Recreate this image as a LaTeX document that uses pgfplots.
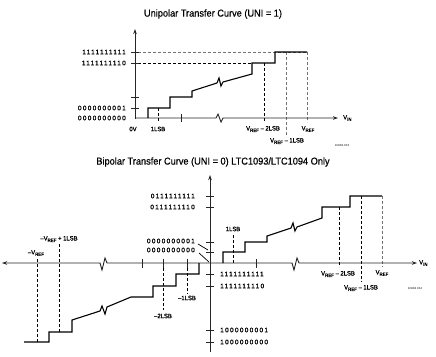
\documentclass[border=0pt]{standalone}
\usepackage{fontspec}
\setmainfont{Liberation Sans}
\newfontfamily\titlefont{Liberation Sans}[FakeStretch=0.92, FakeBold=0.5]
\newfontfamily\bitfont{Liberation Sans}[LetterSpace=20, FakeBold=1]
\newfontfamily\lblfont{Liberation Sans}[FakeStretch=0.92, FakeBold=1]
\usepackage{graphicx}
\usepackage{pgfplots}
\pgfplotsset{compat=1.18}
\usetikzlibrary{arrows.meta}
\newcommand{\bits}[1]{{\bitfont\fontsize{6.5}{7}\selectfont #1}}
\newcommand{\sub}[1]{\raisebox{-0.45ex}{\fontsize{4.8}{5}\selectfont #1}}
\newcommand{\VREF}{V\sub{REF}}
\tikzset{
  stair/.style={black, line width=1.1pt},
  ax/.style={black!85, line width=0.9pt},
  tk/.style={black!85, line width=0.8pt},
  dsh/.style={black, line width=0.8pt, dash pattern=on 3pt off 2pt},
  gdsh/.style={black!55, line width=0.8pt, dash pattern=on 3pt off 2pt},
  lbl/.style={font=\lblfont\fontsize{6.4}{7}\selectfont, text=black, inner sep=0pt},
}
\begin{document}
\begin{tikzpicture}
\begin{axis}[scale only axis, width=436pt, height=356pt,
  xmin=0, xmax=436, ymin=0, ymax=356, y dir=reverse,
  axis lines=none, clip=false]
% ================= UNIPOLAR =================
\addplot[gdsh] coordinates {(138,52) (307,52)};
\addplot[dsh] coordinates {(138,63) (252,63)};
\addplot[dsh] coordinates {(264,63) (264,122)};
\addplot[gdsh] coordinates {(286,52) (286,137)};
\addplot[gdsh] coordinates {(307,52) (307,122)};
\addplot[dsh] coordinates {(158,108) (158,122)};
\addplot[ax, -{Stealth[length=5pt,width=3.5pt]}] coordinates {(135,119) (135,29)};
\addplot[ax, -{Stealth[length=5pt,width=3.5pt]}] coordinates {(135,118) (216,118) (218,114) (221,122) (223,118) (338,118)};
\addplot[tk] coordinates {(131,52) (139,52)};
\addplot[tk] coordinates {(131,63) (139,63)};
\addplot[tk] coordinates {(131,97) (139,97)};
\addplot[tk] coordinates {(131,108) (139,108)};
\addplot[tk] coordinates {(181,114) (181,122)};
\addplot[stair] coordinates {(148,118) (148,108) (170,108) (170,97) (192,97) (192,91) (217,83) (219,78) (221,86) (223,82) (252,74) (252,63) (275,63) (275,52) (307,52)};
\node[font=\titlefont\fontsize{10}{12}\selectfont] at (axis cs:213,14) {Unipolar Transfer Curve (UNI = 1)};
\node[anchor=east, inner sep=0pt] at (axis cs:126,52) {\bits{1111111111}};
\node[anchor=east, inner sep=0pt] at (axis cs:126,63) {\bits{1111111110}};
\node[anchor=east, inner sep=0pt] at (axis cs:126,108) {\bits{0000000001}};
\node[anchor=east, inner sep=0pt] at (axis cs:126,118) {\bits{0000000000}};
\node[lbl] at (axis cs:133,129) {0V};
\node[lbl] at (axis cs:158,129) {1LSB};
\node[lbl] at (axis cs:263,129) {\VREF\ – 2LSB};
\node[lbl] at (axis cs:308,129) {\VREF};
\node[lbl] at (axis cs:287,141) {\VREF\ – 1LSB};
\node[lbl, anchor=west] at (axis cs:343,118) {V\sub{IN}};
\node[font=\fontsize{2.8}{3}\selectfont, inner sep=0pt] at (axis cs:342,145) {1093/4 F03};
% ================= BIPOLAR =================
\node[font=\titlefont\fontsize{10}{12}\selectfont] at (axis cs:213,162) {Bipolar Transfer Curve (UNI = 0) LTC1093/LTC1094 Only};
\addplot[dsh] coordinates {(233,235) (233,263)};
\addplot[dsh] coordinates {(339,207) (339,267)};
\addplot[dsh] coordinates {(361,196) (361,282)};
\addplot[gdsh] coordinates {(382,196) (382,267)};
\addplot[dsh] coordinates {(187,263) (187,294)};
\addplot[dsh] coordinates {(163,263) (163,310)};
\addplot[dsh] coordinates {(59,244) (59,332)};
\addplot[dsh] coordinates {(37,259) (37,342)};
\addplot[ax, -{Stealth[length=5pt,width=3.5pt]}] coordinates {(210,352) (210,175)};
\addplot[ax, {Stealth[length=5pt,width=3.5pt]}-{Stealth[length=5pt,width=3.5pt]}] coordinates {(2,263) (100,263) (102,270) (105,258) (107,263) (292,263) (294,270) (297,258) (299,263) (417,263)};
\addplot[tk] coordinates {(206,196) (214,196)};
\addplot[tk] coordinates {(206,207) (214,207)};
\addplot[tk] coordinates {(206,242) (214,242)};
\addplot[tk] coordinates {(206,252) (214,252)};
\addplot[tk] coordinates {(206,274) (214,274)};
\addplot[tk] coordinates {(206,286) (214,286)};
\addplot[tk] coordinates {(206,330) (214,330)};
\addplot[tk] coordinates {(206,342) (214,342)};
\addplot[tk] coordinates {(142,259) (142,268)};
\addplot[tk] coordinates {(163,259) (163,268)};
\addplot[tk] coordinates {(187,259) (187,268)};
\addplot[tk] coordinates {(256,259) (256,268)};
\addplot[black, line width=0.7pt] coordinates {(198,244) (208,250)};
\addplot[black, line width=0.7pt] coordinates {(199,253) (209,262)};
\addplot[stair] coordinates {(223,263) (223,252) (245,252) (245,242) (267,242) (267,236) (291,228) (293,223) (295,231) (297,227) (322,218) (322,207) (350,207) (350,196) (382,196)};
\addplot[stair] coordinates {(199,263) (199,274) (176,274) (176,286) (153,286) (153,297) (131,297) (107,307) (105,314) (102,306) (100,311) (72,320) (72,332) (49,332) (49,342) (24,342)};
\node[anchor=east, inner sep=0pt] at (axis cs:195,196) {\bits{0111111111}};
\node[anchor=east, inner sep=0pt] at (axis cs:195,207) {\bits{0111111110}};
\node[anchor=east, inner sep=0pt] at (axis cs:195,241) {\bits{0000000001}};
\node[anchor=east, inner sep=0pt] at (axis cs:195,250) {\bits{0000000000}};
\node[anchor=west, inner sep=0pt] at (axis cs:220,274) {\bits{1111111111}};
\node[anchor=west, inner sep=0pt] at (axis cs:220,286) {\bits{1111111110}};
\node[anchor=west, inner sep=0pt] at (axis cs:220,330) {\bits{1000000001}};
\node[anchor=west, inner sep=0pt] at (axis cs:220,342) {\bits{1000000000}};
\node[lbl] at (axis cs:233,229) {1LSB};
\node[lbl] at (axis cs:338,274) {\VREF\ – 2LSB};
\node[lbl] at (axis cs:382,273) {\VREF};
\node[lbl] at (axis cs:361,288) {\VREF\ – 1LSB};
\node[lbl] at (axis cs:187,298) {–1LSB};
\node[lbl] at (axis cs:163,316) {–2LSB};
\node[lbl] at (axis cs:59,239) {–\VREF\ + 1LSB};
\node[lbl] at (axis cs:36,253) {–\VREF};
\node[lbl, anchor=west] at (axis cs:419,263) {V\sub{IN}};
\node[font=\fontsize{2.8}{3}\selectfont, inner sep=0pt] at (axis cs:415,288) {1093/4 F04};
\coordinate (bl) at (axis cs:0,356);
\coordinate (tr) at (axis cs:436,0);
\end{axis}
\pgfresetboundingbox
\path (bl) rectangle (tr);
\end{tikzpicture}
\end{document}
